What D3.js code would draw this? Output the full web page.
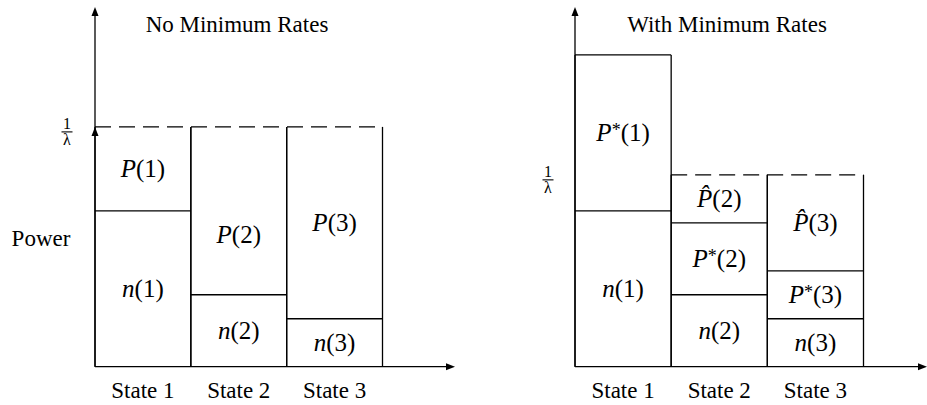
<!DOCTYPE html>
<html>
<head>
<meta charset="utf-8">
<script src="https://cdn.jsdelivr.net/npm/d3@7"></script>
</head>
<body style="margin:0">
<svg id="chart" width="927" height="405"></svg>
<script>
// Water-filling power allocation over three fading states
const states = ["State 1", "State 2", "State 3"];
const noise = [6.5, 3, 2];          // n(i): noise floor per state
const powerFree = [3.5, 7, 8];      // P(i): allocation with no minimum rates
const powerMin = [6.5, 3, 2];       // P*(i): power needed for the minimum rate
const powerExtra = [0, 2, 4];       // P̂(i): extra power water-filled on top
const levelFree = 10;               // 1/λ with no minimum rates
const levelMin = 8;                 // 1/λ with minimum rates
const yMax = 15;                    // top of the power axis
const titles = ["No Minimum Rates", "With Minimum Rates"];

const svg = d3.select("#chart");
const y = d3.scaleLinear().domain([0, yMax]).range([366.7, 7]);
const LW = 1.3;

const panels = [
  {
    key: "free", x0: 95, x1: 382.5, axisEnd: 455, titleX: 237, level: levelFree,
    levelArrow: true, fracX: 67, ylabel: "Power",
    columns: states.map((s, i) => [
      { v: noise[i], name: "n", idx: i + 1 },
      { v: powerFree[i], name: "P", idx: i + 1 }
    ])
  },
  {
    key: "min", x0: 575, x1: 863.5, axisEnd: 927, titleX: 727, level: levelMin,
    levelArrow: false, fracX: 548, ylabel: null,
    columns: states.map((s, i) => [
      { v: noise[i], name: "n", idx: i + 1 },
      { v: powerMin[i], name: "P", mark: "star", idx: i + 1 },
      { v: powerExtra[i], name: "P", mark: "hat", idx: i + 1 }
    ].filter(d => d.v > 0))
  }
];

// vertical nudges for labels that sit off-centre in their block
const labelShift = { "free-P-2": 24 };

// serif text, centred on cx by measuring its rendered width
function txt(cx, yy, size, build) {
  const t = svg.append("text")
    .style("font-family", "'Liberation Serif'")
    .attr("font-size", size)
    .attr("x", cx).attr("y", yy);
  build(t);
  const w = t.node().getComputedTextLength();
  t.attr("x", cx - w / 2);
  return t;
}

function line(g, x1, y1, x2, y2, dash) {
  const l = g.append("line")
    .attr("x1", x1).attr("y1", y1).attr("x2", x2).attr("y2", y2)
    .attr("stroke", "#000").attr("stroke-width", LW);
  if (dash) l.attr("stroke-dasharray", dash);
  return l;
}

function arrowHead(g, tipX, tipY, dir) {
  const len = 9, half = 3.5;
  const pts = dir === "up"
    ? [[tipX, tipY], [tipX - half, tipY + len], [tipX + half, tipY + len]]
    : [[tipX, tipY], [tipX - len, tipY - half], [tipX - len, tipY + half]];
  g.append("path").attr("d", d3.line()(pts) + "Z").attr("fill", "#000");
}

function mathLabel(cx, yc, seg) {
  txt(cx, yc + 8, 25, t => {
    t.append("tspan").style("font-style", "italic")
      .text(seg.mark === "hat" ? "P\u0302" : seg.name);
    if (seg.mark === "star") {
      t.append("tspan").attr("font-size", 18).attr("dy", -5).text("*");
      t.append("tspan").attr("dy", 5).text("(" + seg.idx + ")");
    } else {
      t.append("tspan").text("(" + seg.idx + ")");
    }
  });
}

panels.forEach((p, pi) => {
  const g = svg.append("g");
  const x = d3.scaleBand().domain(states).range([p.x0, p.x1]).padding(0);

  // titles and axis label
  txt(p.titleX, 31.5, 23, t => t.text(titles[pi]));
  if (p.ylabel) txt(41, 246, 23, t => t.text(p.ylabel));

  // columns: stacked blocks of noise and power
  let dashStart = null;
  p.columns.forEach((segs, ci) => {
    const xl = x(states[ci]), xr = xl + x.bandwidth(), xm = xl + x.bandwidth() / 2;
    let base = 0;
    segs.forEach((seg, si) => {
      const top = base + seg.v;
      if (si < segs.length - 1) line(g, xl, y(top), xr, y(top));
      const shift = labelShift[p.key + "-" + seg.name + "-" + seg.idx] || 0;
      mathLabel(xm, (y(base) + y(top)) / 2 + shift, seg);
      base = top;
    });
    line(g, xl, y(0), xl, y(base));
    line(g, xr, y(0), xr, y(base));
    if (base > p.level + 1e-9) {
      line(g, xl, y(base), xr, y(base));
    } else if (dashStart === null) {
      dashStart = xl;
    }
    txt(xm, 398, 23, t => t.text(states[ci]));
  });

  // water level 1/λ
  line(g, dashStart, y(p.level), p.x1, y(p.level), "16,8");
  const fy = y(p.level) + 5;
  txt(p.fracX, fy - 2.5, 16, t => t.text("1"));
  line(g, p.fracX - 5.5, fy, p.fracX + 5.5, fy).attr("stroke-width", 1.1);
  txt(p.fracX, fy + 13, 16, t => t.text("\u03bb"));

  // axes
  line(g, p.x0, y(0), p.x0, y(yMax) + 4);
  arrowHead(g, p.x0, y(yMax), "up");
  if (p.levelArrow) arrowHead(g, p.x0, y(p.level), "up");
  line(g, p.x0, y(0), p.axisEnd - 4, y(0));
  arrowHead(g, p.axisEnd, y(0), "right");
});
</script>
</body>
</html>
